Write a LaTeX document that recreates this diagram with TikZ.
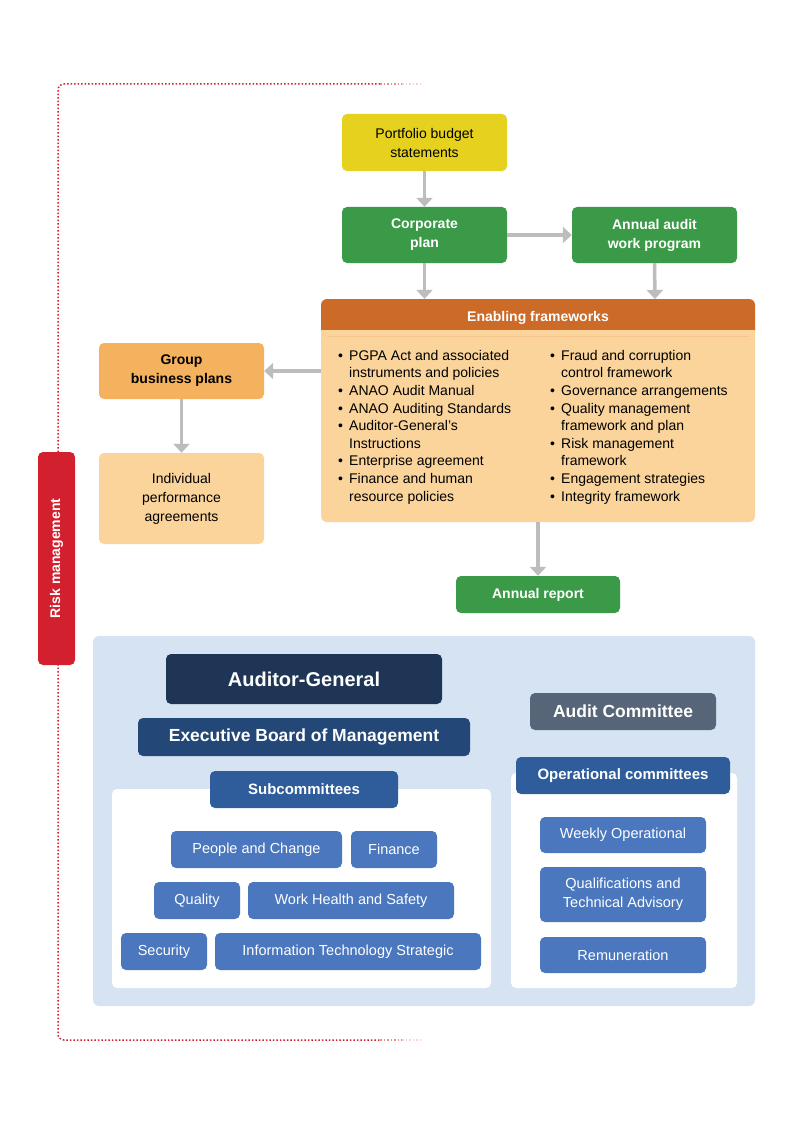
\documentclass[tikz,border=0pt]{standalone}
\usepackage{fontspec}
\setmainfont{Liberation Sans}
\usetikzlibrary{arrows.meta}
\definecolor{yel}{HTML}{E6D21E}
\definecolor{grn}{HTML}{3A9A47}
\definecolor{org}{HTML}{CC6B28}
\definecolor{peach}{HTML}{FAD49B}
\definecolor{gorg}{HTML}{F5B25E}
\definecolor{rred}{HTML}{D2202F}
\definecolor{lblue}{HTML}{D6E3F3}
\definecolor{navy}{HTML}{1E3556}
\definecolor{dblue}{HTML}{234878}
\definecolor{mblue}{HTML}{2F5C9A}
\definecolor{sblue}{HTML}{4A77BE}
\definecolor{ggray}{HTML}{566577}
\definecolor{arr}{HTML}{BDBDBD}
\newcommand{\bl}{\makebox[11pt][l]{\textbullet}}
\newcommand{\ind}{\hspace*{11pt}}
\begin{document}
\begin{tikzpicture}[x=1pt,y=-1pt,
  box/.style={rounded corners=5pt,align=center,inner sep=0pt,font=\fontsize{14}{19}\selectfont},
  gbox/.style={box,fill=grn,text=white,font=\bfseries\fontsize{14}{19}\selectfont},
  sb/.style={box,fill=sblue,text=white,font=\fontsize{14.5}{19}\selectfont},
  wp/.style={fill=white,rounded corners=5pt,inner sep=0pt},
  ar/.style={draw=arr,line width=3.5pt,-{Triangle[length=9pt,width=16pt]}}]
\useasboundingbox (0,0) rectangle (794,1123);
\fill[white] (0,0) rectangle (794,1123);
% risk management dotted loop
\draw[rred,line width=1.5pt,dotted,rounded corners=6pt] (380,84) -- (58,84) -- (58,1040) -- (380,1040);
\draw[rred,line width=1.5pt,dotted,opacity=0.5] (380,84) -- (402,84) (380,1040) -- (402,1040);
\draw[rred,line width=1.5pt,dotted,opacity=0.2] (402,84) -- (422,84) (402,1040) -- (422,1040);
\node[box,fill=rred,minimum width=37pt,minimum height=213pt] (risk) at (56.5,558.5) {};
\node[rotate=90,text=white,font=\bfseries\fontsize{14}{17}\selectfont] (risklbl) at (risk.center) {Risk management};
% top flow
\node[box,fill=yel,minimum width=165pt,minimum height=57pt] (pbs) at (424.5,142.5) {Portfolio budget\\statements};
\node[gbox,minimum width=165pt,minimum height=56pt] (cp) at (424.5,235) {Corporate\\plan};
\node[gbox,minimum width=165pt,minimum height=56pt] (aawp) at (654.5,235) {Annual audit\\work program};
\fill[peach,rounded corners=6pt] (321,320) rectangle (755,522);
\node[box,fill=org,text=white,font=\bfseries\fontsize{14}{17}\selectfont,minimum width=434pt,minimum height=37pt,rounded corners=6pt] (ef) at (538,317.5) {Enabling frameworks};
\fill[peach] (321,330) rectangle (755,336);
\coordinate (efb) at (538,522);
\coordinate (efl) at (321,371);
\coordinate (eftr) at (655,299);
\node[anchor=north west,align=left,inner sep=0pt,font=\fontsize{14}{17.6}\selectfont] (lc) at (338,350) {\bl PGPA Act and associated\\\ind instruments and policies\\\bl ANAO Audit Manual\\\bl ANAO Auditing Standards\\\bl Auditor-General’s\\\ind Instructions\\\bl Enterprise agreement\\\bl Finance and human\\\ind resource policies};
\node[anchor=north west,align=left,inner sep=0pt,font=\fontsize{14}{17.6}\selectfont] (rc) at (550,350) {\bl Fraud and corruption\\\ind control framework\\\bl Governance arrangements\\\bl Quality management\\\ind framework and plan\\\bl Risk management\\\ind framework\\\bl Engagement strategies\\\bl Integrity framework};
\node[box,fill=gorg,font=\bfseries\fontsize{14}{19}\selectfont,minimum width=165pt,minimum height=56pt] (gbp) at (181.5,371) {Group\\business plans};
\node[box,fill=peach,minimum width=165pt,minimum height=91pt] (ipa) at (181.5,498.5) {Individual\\performance\\agreements};
\node[gbox,minimum width=164pt,minimum height=37pt] (ar) at (538,594.5) {Annual report};
\draw[ar] (pbs) -- (cp);
\draw[ar] (cp) -- (aawp);
\draw[ar] (cp.south) -- (cp.south|-ef.north);
\draw[ar] (aawp.south) -- (eftr);
\draw[ar] (efl) -- (gbp.east);
\draw[ar] (gbp) -- (ipa);
\draw[ar] (efb) -- (ar.north);
% governance panel
\fill[lblue,rounded corners=6pt] (93,636) rectangle (755,1006);
\node[box,fill=navy,text=white,font=\bfseries\fontsize{20}{24}\selectfont,minimum width=276pt,minimum height=50pt] (ag) at (304,679) {Auditor-General};
\node[box,fill=dblue,text=white,font=\bfseries\fontsize{17.5}{21}\selectfont,minimum width=332pt,minimum height=38pt] (ebm) at (304,737) {Executive Board of Management};
\node[box,fill=ggray,text=white,font=\bfseries\fontsize{17.5}{21}\selectfont,minimum width=186pt,minimum height=37pt] (ac) at (623,711.5) {Audit Committee};
\fill[wp] (112,789) rectangle (491,988);
\fill[wp] (511,773) rectangle (737,988);
\node[box,fill=mblue,text=white,font=\bfseries\fontsize{15}{19}\selectfont,minimum width=188pt,minimum height=37pt] (sub) at (304,789.5) {Subcommittees};
\node[box,fill=mblue,text=white,font=\bfseries\fontsize{15}{19}\selectfont,minimum width=214pt,minimum height=37pt] (opc) at (623,775.5) {Operational committees};
\node[sb,minimum width=171pt,minimum height=37pt] (pc) at (256.5,849.5) {People and Change};
\node[sb,minimum width=86pt,minimum height=37pt] (fin) at (394,849.5) {Finance};
\node[sb,minimum width=86pt,minimum height=37pt] (qual) at (197,900.5) {Quality};
\node[sb,minimum width=206pt,minimum height=37pt] (whs) at (351,900.5) {Work Health and Safety};
\node[sb,minimum width=86pt,minimum height=37pt] (sec) at (164,951.5) {Security};
\node[sb,minimum width=266pt,minimum height=37pt] (its) at (348,951.5) {Information Technology Strategic};
\node[sb,minimum width=166pt,minimum height=36pt] (wo) at (623,835) {Weekly Operational};
\node[sb,minimum width=166pt,minimum height=55pt] (qta) at (623,894.5) {Qualifications and\\Technical Advisory};
\node[sb,minimum width=166pt,minimum height=36pt] (rem) at (623,955) {Remuneration};
\end{tikzpicture}
\end{document}
